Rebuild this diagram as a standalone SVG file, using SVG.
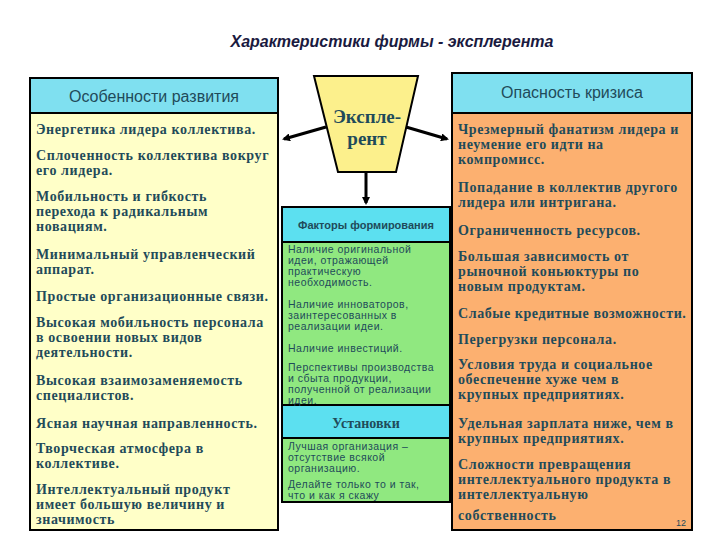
<svg xmlns="http://www.w3.org/2000/svg" width="720" height="540" viewBox="0 0 720 540">
<defs><marker id="ar" markerWidth="8" markerHeight="8" refX="6" refY="4" orient="auto" markerUnits="userSpaceOnUse"><path d="M0,0 L8,4 L0,8 z" fill="#000"/></marker></defs>
<style>
.t{font-family:"Liberation Serif",serif;font-size:14px;letter-spacing:0.6px;font-weight:bold;fill:#1f4b5a}
.s{font-family:"Liberation Sans",sans-serif;font-size:10.5px;letter-spacing:0.5px;fill:#1f4b5a}
.h{font-family:"Liberation Sans",sans-serif;font-size:16px;fill:#1f4b5a;text-anchor:middle}
.b{stroke:#000;stroke-width:2}
</style>
<rect width="720" height="540" fill="#fff"/>
<text x="392" y="47" text-anchor="middle" font-family="Liberation Sans,sans-serif" font-style="italic" font-weight="bold" font-size="16" fill="#1a1a40">Характеристики фирмы - эксплерента</text>
<g id="left">
<rect x="30" y="78" width="248" height="35" fill="#7fe0f0" class="b"/>
<rect x="30" y="113" width="248" height="417" fill="#ffffc8" class="b"/>
<text class="h" x="154" y="102">Особенности развития</text>
<text class="t"><tspan x="36" y="134">Энергетика лидера коллектива.</tspan><tspan x="36" y="160">Сплоченность коллектива вокруг</tspan><tspan x="36" y="175">его лидера.</tspan><tspan x="36" y="201">Мобильность и гибкость</tspan><tspan x="36" y="216">перехода к радикальным</tspan><tspan x="36" y="231">новациям.</tspan><tspan x="36" y="259">Минимальный управленческий</tspan><tspan x="36" y="274">аппарат.</tspan><tspan x="36" y="301">Простые организационные связи.</tspan><tspan x="36" y="327">Высокая мобильность персонала</tspan><tspan x="36" y="342">в освоении новых видов</tspan><tspan x="36" y="357">деятельности.</tspan><tspan x="36" y="385">Высокая взаимозаменяемость</tspan><tspan x="36" y="400">специалистов.</tspan><tspan x="36" y="428">Ясная научная направленность.</tspan><tspan x="36" y="453">Творческая атмосфера в</tspan><tspan x="36" y="468">коллективе.</tspan><tspan x="36" y="494">Интеллектуальный продукт</tspan><tspan x="36" y="509">имеет большую величину и</tspan><tspan x="36" y="524">значимость</tspan></text>
</g>
<g id="right">
<rect x="452" y="73" width="240" height="40" fill="#7fe0f0" class="b"/>
<rect x="452" y="113" width="240" height="417" fill="#fcb070" class="b"/>
<text class="h" x="572" y="98">Опасность кризиса</text>
<text class="t"><tspan x="458" y="134">Чрезмерный фанатизм лидера и</tspan><tspan x="458" y="149">неумение его идти на</tspan><tspan x="458" y="164">компромисс.</tspan><tspan x="458" y="192">Попадание в коллектив другого</tspan><tspan x="458" y="207">лидера или интригана.</tspan><tspan x="458" y="235">Ограниченность ресурсов.</tspan><tspan x="458" y="261">Большая зависимость от</tspan><tspan x="458" y="276">рыночной коньюктуры по</tspan><tspan x="458" y="291">новым продуктам.</tspan><tspan x="458" y="318">Слабые кредитные возможности.</tspan><tspan x="458" y="344">Перегрузки персонала.</tspan><tspan x="458" y="369">Условия труда и социальное</tspan><tspan x="458" y="384">обеспечение хуже чем в</tspan><tspan x="458" y="399">крупных предприятиях.</tspan><tspan x="458" y="428">Удельная зарплата ниже, чем в</tspan><tspan x="458" y="443">крупных предприятиях.</tspan><tspan x="458" y="469">Сложности превращения</tspan><tspan x="458" y="484">интеллектуального продукта в</tspan><tspan x="458" y="499">интеллектуальную</tspan><tspan x="458" y="520">собственность</tspan></text>
<text x="676" y="526" font-family="Liberation Sans,sans-serif" font-size="9" fill="#1f4b5a">12</text>
</g>
<g id="center">
<polygon points="314,76 418,76 396,172 338,172" fill="#fcf08c" stroke="#000" stroke-width="2"/>
<text font-family="Liberation Serif,serif" font-size="19" font-weight="bold" fill="#1f4b5a" text-anchor="middle"><tspan x="367" y="123">Экспле-</tspan><tspan x="367" y="145">рент</tspan></text>
</g>
<g id="factors">
<rect x="282" y="207" width="168" height="35" fill="#5ce0f0" class="b"/>
<rect x="282" y="242" width="168" height="163" fill="#90e880" class="b"/>
<text x="366" y="229" text-anchor="middle" font-family="Liberation Sans,sans-serif" font-size="11" font-weight="bold" fill="#1f4b5a">Факторы формирования</text>
</g>
<g id="ustanovki">
<rect x="282" y="405" width="168" height="33" fill="#5ce0f0" class="b"/>
<rect x="282" y="438" width="168" height="64" fill="#90e880" class="b"/>
<text x="366" y="428" text-anchor="middle" font-family="Liberation Serif,serif" font-size="14" font-weight="bold" fill="#1f4b5a">Установки</text>
<text class="s"><tspan x="288" y="450">Лучшая организация –</tspan><tspan x="288" y="461">отсутствие всякой</tspan><tspan x="288" y="472">организацию.</tspan><tspan x="288" y="488">Делайте  только то и так,</tspan><tspan x="288" y="499">что и как я скажу</tspan></text>
</g>
<text class="s"><tspan x="288" y="253">Наличие оригинальной</tspan><tspan x="288" y="264">идеи, отражающей</tspan><tspan x="288" y="275">практическую</tspan><tspan x="288" y="286">необходимость.</tspan><tspan x="288" y="308">Наличие инноваторов,</tspan><tspan x="288" y="319">заинтересованных в</tspan><tspan x="288" y="330">реализации идеи.</tspan><tspan x="288" y="352">Наличие инвестиций.</tspan><tspan x="288" y="371">Перспективы производства</tspan><tspan x="288" y="382">и сбыта продукции,</tspan><tspan x="288" y="393">полученной от реализации</tspan><tspan x="288" y="404">идеи.</tspan></text>
<g id="connectors" stroke="#000" stroke-width="3" marker-end="url(#ar)">
<line x1="326" y1="127" x2="284" y2="139"/>
<line x1="406" y1="127" x2="447" y2="139"/>
<line x1="366" y1="172" x2="366" y2="203"/>
</g>
</svg>
